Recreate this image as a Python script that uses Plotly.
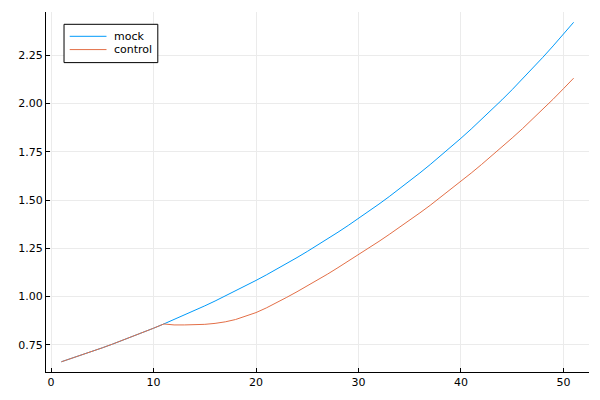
import plotly.graph_objects as go

x_vals = list(range(1, 52))

mock = [0.6620, 0.6794, 0.6973, 0.7156, 0.7344, 0.7537, 0.7735, 0.7938, 0.8147, 0.8361,
        0.8580, 0.8806, 0.9037, 0.9275, 0.9519, 0.9769, 1.0025, 1.0289, 1.0559, 1.0837,
        1.1121, 1.1414, 1.1714, 1.2021, 1.2337, 1.2661, 1.2994, 1.3336, 1.3686, 1.4046,
        1.4415, 1.4794, 1.5182, 1.5581, 1.5991, 1.6411, 1.6842, 1.7285, 1.7739, 1.8205,
        1.8683, 1.9174, 1.9678, 2.0195, 2.0726, 2.1271, 2.1829, 2.2403, 2.2992, 2.3596,
        2.4216]

control = [0.6620, 0.6794, 0.6973, 0.7156, 0.7344, 0.7537, 0.7735, 0.7938, 0.8147, 0.8361,
           0.8580, 0.8530, 0.8530, 0.8540, 0.8560, 0.8610, 0.8690, 0.8810, 0.8970, 0.9170,
           0.9410, 0.9670, 0.9960, 1.0250, 1.0550, 1.0860, 1.1170, 1.1500, 1.1830, 1.2180,
           1.2520, 1.2860, 1.3220, 1.3580, 1.3950, 1.4340, 1.4730, 1.5140, 1.5550, 1.5980,
           1.6400, 1.6840, 1.7290, 1.7750, 1.8220, 1.8700, 1.9200, 1.9710, 2.0230, 2.0770,
           2.1320]

series_names = ["mock", "control"]
colors = ["#009AFA", "#E36F47"]

fig = go.Figure()
for name, ys, c in zip(series_names, [mock, control], colors):
    fig.add_trace(go.Scatter(x=x_vals, y=ys, mode="lines", name=name,
                             line=dict(color=c, width=1), showlegend=False))

axis_common = dict(
    showline=True, linecolor="black", linewidth=1, mirror=False,
    ticks="inside", ticklen=4, tickcolor="black", tickwidth=1,
    showgrid=True, gridcolor="#EBEBEB", gridwidth=1,
    zeroline=False, automargin=False,
    tickfont=dict(family="DejaVu Sans", size=11, color="black"),
)

# custom legend (paper coordinates)
shapes = [dict(type="rect", xref="paper", yref="paper",
               x0=0.0332, x1=0.2059, y0=0.8594, y1=0.9658,
               line=dict(color="black", width=1), fillcolor="white", layer="above")]
annotations = []
legend_y = [0.9325, 0.8956]
for name, c, ly in zip(series_names, colors, legend_y):
    shapes.append(dict(type="line", xref="paper", yref="paper",
                       x0=0.0437, x1=0.1114, y0=ly, y1=ly,
                       line=dict(color=c, width=1), layer="above"))
    annotations.append(dict(text=name, xref="paper", yref="paper", x=0.1211, y=ly,
                            xanchor="left", yanchor="middle", showarrow=False,
                            font=dict(family="DejaVu Sans", size=11, color="black")))

fig.update_layout(
    width=600, height=400,
    margin=dict(l=46, r=11, t=12, b=28),
    paper_bgcolor="white", plot_bgcolor="white",
    font=dict(family="DejaVu Sans", size=11, color="black"),
    xaxis=dict(range=[-0.5, 52.5], tickvals=[0, 10, 20, 30, 40, 50], **axis_common),
    yaxis=dict(range=[0.609, 2.475], tickvals=[0.75, 1.0, 1.25, 1.5, 1.75, 2.0, 2.25],
               ticktext=["0.75", "1.00", "1.25", "1.50", "1.75", "2.00", "2.25"], **axis_common),
    shapes=shapes, annotations=annotations,
    showlegend=False,
)

fig.write_html("out.html", config={"displayModeBar": False},
               post_script="document.body.style.margin='0';")
